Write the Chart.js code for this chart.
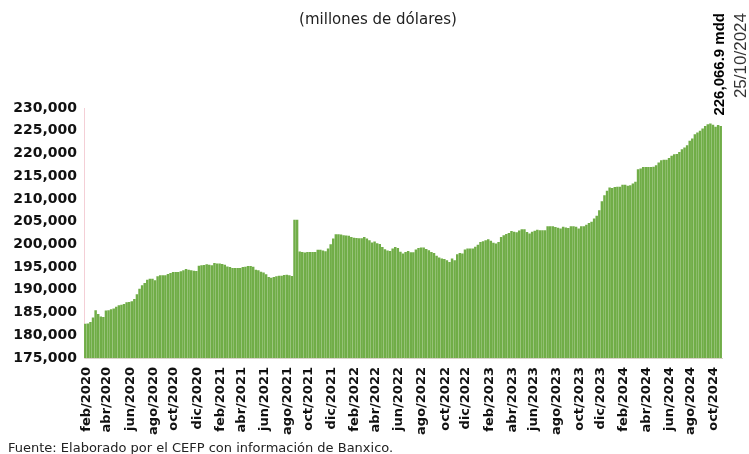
<!DOCTYPE html>
<html>
<head>
<meta charset="utf-8">
<script src="https://cdn.jsdelivr.net/npm/chart.js@4"></script>
<style>
  body { margin: 0; background: #fff; }
  #wrap { width: 749px; height: 454px; }
</style>
</head>
<body>
<div id="wrap"><canvas id="reservasChart" width="749" height="454"></canvas></div>
<script>
// reservas internacionales, saldo semanal (viernes) en millones de dolares
const firstWeek = '2020-02-07';
const reservas = [
  182540, 182600, 182900, 183900, 185500, 184700, 184150, 184000, 185450, 185500,
  185700, 185900, 186300, 186580, 186700, 186900, 187240, 187310, 187500, 187970,
  189000, 190250, 190990, 191500, 192240, 192460, 192460, 192090, 192970, 193190,
  193190, 193190, 193500, 193700, 193920, 193920, 193920, 194100, 194290, 194580,
  194400, 194290, 194200, 194140, 195300, 195400, 195450, 195620, 195500, 195400,
  195910, 195800, 195770, 195700, 195500, 195150, 195000, 194800, 194800, 194800,
  194800, 195000, 195100, 195250, 195250, 195100, 194440, 194290, 194000, 193800,
  193400, 192820, 192680, 192800, 193000, 193120, 193120, 193250, 193300, 193190,
  193040, 205400, 205400, 198450, 198330, 198190, 198300, 198330, 198330, 198330,
  198800, 198800, 198650, 198480, 199070, 200030, 201280, 202230, 202230, 202150,
  202000, 201940, 201900, 201640, 201450, 201420, 201350, 201350, 201640, 201280,
  200910, 200400, 200620, 200250, 200100, 199400, 198950, 198650, 198550, 199070,
  199440, 199200, 198400, 197970, 198330, 198550, 198260, 198260, 198850, 199200,
  199300, 199300, 199000, 198700, 198330, 198110, 197500, 197100, 196870, 196800,
  196500, 196130, 196870, 196500, 197820, 198110, 197970, 198850, 199100, 199070,
  199070, 199500, 199900, 200530, 200700, 200910, 201130, 200800, 200350, 200200,
  200530, 201640, 202000, 202300, 202500, 202960, 202800, 202650, 203050, 203300,
  203300, 202700, 202400, 202800, 203000, 203200, 203110, 203110, 203100, 204000,
  204000, 204000, 203800, 203650, 203500, 203850, 203700, 203600, 204000, 204000,
  203900, 203500, 204000, 204000, 204300, 204700, 205000, 205700, 206300, 207500,
  209500, 210800, 211800, 212500, 212400, 212600, 212700, 212700, 213100, 213100,
  212900, 213000, 213400, 213800, 216500, 216700, 217000, 217000, 217000, 217000,
  217100, 217400, 218000, 218500, 218600, 218600, 219000, 219500, 219800, 219900,
  220300, 220900, 221300, 221800, 222800, 223300, 224200, 224600, 225000, 225500,
  226050, 226400, 226600, 226300, 225900, 226250, 226066.9
];
const meses = ['ene', 'feb', 'mar', 'abr', 'may', 'jun', 'jul', 'ago', 'sep', 'oct', 'nov', 'dic'];
const tickLabels = [
  'feb/2020', 'abr/2020', 'jun/2020', 'ago/2020', 'oct/2020', 'dic/2020',
  'feb/2021', 'abr/2021', 'jun/2021', 'ago/2021', 'oct/2021', 'dic/2021',
  'feb/2022', 'abr/2022', 'jun/2022', 'ago/2022', 'oct/2022', 'dic/2022',
  'feb/2023', 'abr/2023', 'jun/2023', 'ago/2023', 'oct/2023', 'dic/2023',
  'feb/2024', 'abr/2024', 'jun/2024', 'ago/2024', 'oct/2024'
];
const yTicks = [175000, 180000, 185000, 190000, 195000, 200000, 205000, 210000, 215000, 220000, 225000, 230000];
const titulo = '(millones de dólares)';
const fuente = 'Fuente: Elaborado por el CEFP con información de Banxico.';
const ultimoTexto = '226,066.9 mdd';
const ultimaFecha = '25/10/2024';

// categorias: una fecha por semana
const t0 = Date.parse(firstWeek + 'T00:00:00Z');
const semanas = reservas.map((v, i) => new Date(t0 + i * 7 * 86400000));
const categorias = semanas.map(d =>
  String(d.getUTCDate()).padStart(2, '0') + '/' + String(d.getUTCMonth() + 1).padStart(2, '0') + '/' + d.getUTCFullYear());

function etiquetaMes(index) {
  const d = semanas[index];
  if (d.getUTCDate() > 7) return '';
  const lab = meses[d.getUTCMonth()] + '/' + d.getUTCFullYear();
  return tickLabels.includes(lab) ? lab : '';
}

const textos = {
  id: 'textos',
  afterDraw(chart) {
    const ctx = chart.ctx;
    const xs = chart.scales.x;
    const area = chart.chartArea;
    ctx.save();
    ctx.fillStyle = '#222';
    ctx.font = '15px "DejaVu Sans"';
    ctx.textAlign = 'center';
    ctx.textBaseline = 'middle';
    ctx.fillText(titulo, 378, 20);

    ctx.textAlign = 'left';
    ctx.textBaseline = 'alphabetic';
    ctx.font = '13px "DejaVu Sans"';
    ctx.fillText(fuente, 8, 452);

    // etiquetas del eje x, verticales, en la posicion de la escala
    ctx.fillStyle = '#111';
    ctx.font = 'bold 13px "DejaVu Sans"';
    ctx.textAlign = 'right';
    ctx.textBaseline = 'middle';
    categorias.forEach((c, i) => {
      const lab = etiquetaMes(i);
      if (!lab) return;
      ctx.save();
      ctx.translate(xs.getPixelForValue(i) + 1, area.bottom + 9);
      ctx.rotate(-Math.PI / 2);
      ctx.fillText(lab, 0, 0);
      ctx.restore();
    });

    // etiqueta del ultimo dato
    const xLast = xs.getPixelForValue(reservas.length - 1);
    ctx.fillStyle = '#000';
    ctx.translate(xLast - 1, 13);
    ctx.rotate(-Math.PI / 2);
    ctx.textAlign = 'right';
    ctx.textBaseline = 'middle';
    ctx.font = 'bold 15px "Liberation Sans"';
    ctx.fillText(ultimoTexto, 0, 0);
    ctx.font = '17px "Liberation Sans"';
    ctx.fillStyle = '#333';
    ctx.fillText(ultimaFecha, 0, 22);
    ctx.restore();
  }
};

const ctx = document.getElementById('reservasChart').getContext('2d');
new Chart(ctx, {
  type: 'bar',
  data: {
    labels: categorias,
    datasets: [{
      label: 'Reservas internacionales',
      data: reservas,
      backgroundColor: '#70AD47',
      borderWidth: 0,
      barPercentage: 0.96,
      categoryPercentage: 1.0
    }]
  },
  options: {
    responsive: false,
    animation: false,
    devicePixelRatio: 1,
    layout: { padding: { top: 108, right: 27, left: 0, bottom: 96 } },
    plugins: {
      legend: { display: false },
      title: { display: false },
      tooltip: { enabled: false }
    },
    scales: {
      x: {
        grid: { display: false, drawTicks: false },
        border: { display: true, color: '#d8d2c8', width: 1 },
        ticks: { display: false }
      },
      y: {
        min: yTicks[0],
        max: yTicks[yTicks.length - 1],
        grid: { display: false, drawTicks: false },
        border: { display: true, color: '#f4cfd6', width: 1 },
        afterFit(scale) { scale.width = 84; },
        afterBuildTicks(scale) { scale.ticks = yTicks.map(v => ({ value: v })); },
        ticks: {
          padding: 7,
          color: '#111',
          font: { family: 'DejaVu Sans', size: 14, weight: 'bold' },
          callback: v => v.toLocaleString('en-US')
        }
      }
    }
  },
  plugins: [textos]
});
</script>
</body>
</html>
